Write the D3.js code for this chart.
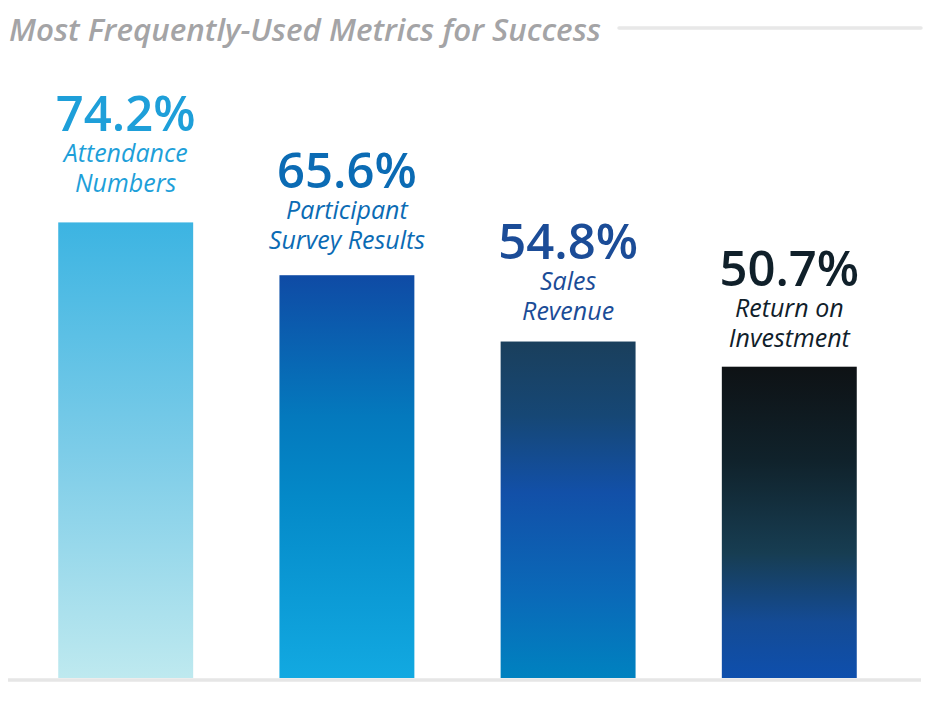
<!DOCTYPE html>
<html>
<head>
<meta charset="utf-8">
<script src="https://cdn.jsdelivr.net/npm/d3@7"></script>
<style>
  html, body { margin: 0; padding: 0; background: #ffffff; }
  svg { display: block; }
</style>
</head>
<body>
<svg id="chart" width="940" height="707"></svg>
<script>
const title = "Most Frequently-Used Metrics for Success";
const categories = ["Attendance Numbers", "Participant Survey Results", "Sales Revenue", "Return on Investment"];
const labelLines = [["Attendance", "Numbers"], ["Participant", "Survey Results"], ["Sales", "Revenue"], ["Return on", "Investment"]];
const values = [74.2, 65.6, 54.8, 50.7];
const textColors = ["#1e9fd9", "#0b6bb4", "#1b4c97", "#10202a"];
const gradientStops = [
  [["0%", "#3cb4e2"], ["50%", "#7ccce8"], ["100%", "#bee9ef"]],
  [["0%", "#0f4ba5"], ["35%", "#0479bd"], ["55%", "#0489c8"], ["100%", "#12a9e1"]],
  [["0%", "#1a3f5c"], ["22%", "#164775"], ["45%", "#1250a8"], ["75%", "#0a69b8"], ["100%", "#0082c0"]],
  [["0%", "#0e1215"], ["30%", "#10222b"], ["60%", "#173d52"], ["82%", "#144b95"], ["100%", "#0e4fad"]]
];

const svg = d3.select("#chart");
const defs = svg.append("defs");

gradientStops.forEach((stops, i) => {
  const g = defs.append("linearGradient")
    .attr("id", "grad" + i)
    .attr("x1", 0).attr("y1", 0).attr("x2", 0).attr("y2", 1);
  stops.forEach(s => g.append("stop").attr("offset", s[0]).attr("stop-color", s[1]));
});

const x = d3.scaleBand()
  .domain(categories)
  .range([14, 901])
  .paddingInner(0.39)
  .paddingOuter(0.2);

const y = d3.scaleLinear().domain([0, 100]).range([678, 64]);
const yLabel = d3.scaleLinear().domain([0, 100]).range([682, 22]);

// Title
svg.append("text")
  .attr("x", 9)
  .attr("y", 41)
  .attr("font-family", "'Open Sans', sans-serif")
  .attr("font-style", "italic")
  .attr("font-weight", 600)
  .attr("font-size", 31)
  .attr("fill", "#a4a4a6")
  .attr("textLength", 592)
  .attr("lengthAdjust", "spacingAndGlyphs")
  .text(title);

// Title rule
svg.append("line")
  .attr("x1", 619).attr("x2", 921)
  .attr("y1", 28).attr("y2", 28)
  .attr("stroke", "#e8e8e8")
  .attr("stroke-width", 3.5)
  .attr("stroke-linecap", "round");

// Bars
svg.selectAll("rect.bar")
  .data(values)
  .join("rect")
  .attr("class", "bar")
  .attr("x", (d, i) => x(categories[i]))
  .attr("width", x.bandwidth())
  .attr("y", d => y(d))
  .attr("height", d => y(0) - y(d))
  .attr("fill", (d, i) => `url(#grad${i})`);

// Baseline
svg.append("line")
  .attr("x1", 8).attr("x2", 921)
  .attr("y1", 680).attr("y2", 680)
  .attr("stroke", "#e6e6e6")
  .attr("stroke-width", 3.5);

// Labels
const groups = svg.selectAll("g.lbl")
  .data(values)
  .join("g")
  .attr("class", "lbl")
  .attr("transform", (d, i) => `translate(${x(categories[i]) + x.bandwidth() / 2},${yLabel(d)})`);

groups.append("text")
  .attr("text-anchor", "middle")
  .attr("y", -61)
  .attr("font-family", "'Open Sans', sans-serif")
  .attr("font-weight", 600)
  .attr("font-size", 49)
  .attr("fill", (d, i) => textColors[i])
  .text(d => d.toFixed(1) + "%");

groups.each(function(d, i) {
  const g = d3.select(this);
  labelLines[i].forEach((line, j) => {
    g.append("text")
      .attr("text-anchor", "middle")
      .attr("y", j === 0 ? -30 : 0)
      .attr("font-family", "'Open Sans', sans-serif")
      .attr("font-style", "italic")
      .attr("font-size", 25)
      .attr("fill", textColors[i])
      .text(line);
  });
});
</script>
</body>
</html>
